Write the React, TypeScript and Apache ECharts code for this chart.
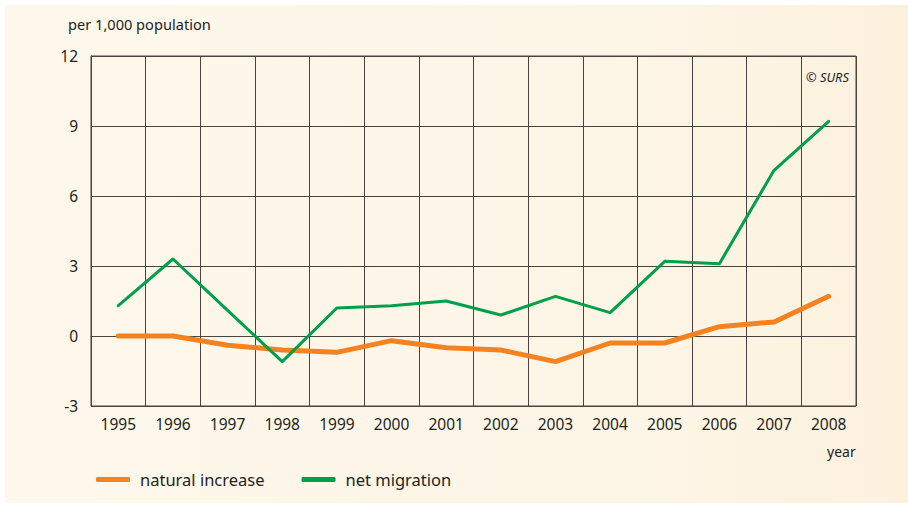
import React, { useEffect, useRef } from "react";
import * as echarts from "echarts";

const years = ["1995","1996","1997","1998","1999","2000","2001","2002","2003","2004","2005","2006","2007","2008"];
const naturalIncrease = [0, 0, -0.4, -0.6, -0.7, -0.2, -0.5, -0.6, -1.1, -0.3, -0.3, 0.4, 0.6, 1.7];
const netMigration = [1.3, 3.3, 1.1, -1.1, 1.2, 1.3, 1.5, 0.9, 1.7, 1.0, 3.2, 3.1, 7.1, 9.2];
const yTicks = { min: -3, max: 12, interval: 3 };

const FONT = "'Noto Sans', 'Open Sans', sans-serif";
const GRID_COLOR = "#4a4340";
const TEXT = "#231f20";

export default function App() {
  const ref = useRef<HTMLDivElement>(null);
  useEffect(() => {
    if (!ref.current) return;
    const chart = echarts.init(ref.current, null, { renderer: "svg" });
    chart.setOption({
      animation: false,
      backgroundColor: "transparent",
      textStyle: { fontFamily: FONT },
      grid: {
        left: 91, right: 52, top: 56, bottom: 101,
        show: true, borderColor: GRID_COLOR, borderWidth: 1,
        backgroundColor: "transparent",
      },
      xAxis: {
        type: "category",
        data: years,
        boundaryGap: true,
        axisLine: { show: true, lineStyle: { color: GRID_COLOR, width: 1 } },
        axisTick: { show: false },
        splitLine: { show: true, lineStyle: { color: GRID_COLOR, width: 1 } },
        axisLabel: { color: TEXT, fontSize: 15.5, margin: 10, fontFamily: FONT },
      },
      yAxis: {
        type: "value",
        min: yTicks.min, max: yTicks.max, interval: yTicks.interval,
        axisLine: { show: true, lineStyle: { color: GRID_COLOR, width: 1 } },
        axisTick: { show: false },
        splitLine: { show: true, lineStyle: { color: GRID_COLOR, width: 1 } },
        axisLabel: { color: TEXT, fontSize: 15.5, margin: 13, fontFamily: FONT },
      },
      legend: {
        left: 96, top: 471, padding: 0,
        itemWidth: 34, itemHeight: 5, itemGap: 37,
        icon: "roundRect",
        textStyle: { color: TEXT, fontSize: 16.5, fontFamily: FONT, padding: [0, 0, 0, 5] },
        data: ["natural increase", "net migration"],
      },
      graphic: [
        { type: "text", left: 68, top: 16, style: { text: "per 1,000 population", fill: TEXT, font: `14.6px ${FONT}` } },
        { type: "text", left: 827, top: 444, style: { text: "year", fill: TEXT, font: `14px ${FONT}` } },
        { type: "text", left: 806, top: 70, style: { text: "© SURS", fill: TEXT, font: `italic 12.8px ${FONT}` } },
      ],
      series: [
        {
          name: "natural increase", type: "line", data: naturalIncrease,
          showSymbol: false, symbol: "none",
          lineStyle: { color: "#f58220", width: 5, cap: "round", join: "round" },
          itemStyle: { color: "#f58220" },
          z: 3,
        },
        {
          name: "net migration", type: "line", data: netMigration,
          showSymbol: false, symbol: "none",
          lineStyle: { color: "#00a04a", width: 3, cap: "round", join: "round" },
          itemStyle: { color: "#00a04a" },
          z: 4,
        },
      ],
    });
    return () => chart.dispose();
  }, []);
  return (
    <div style={{ position: "fixed", left: 0, top: 0, width: 908, height: 507, background: "#ffffff" }}>
      <div style={{ position: "absolute", left: 5, top: 5, width: 903, height: 498, background: "linear-gradient(90deg, #fef8ec 0%, #fdf5e6 70%, #fcf1dd 100%)" }} />
      <div ref={ref} style={{ position: "absolute", left: 0, top: 0, width: 908, height: 507 }} />
    </div>
  );
}
